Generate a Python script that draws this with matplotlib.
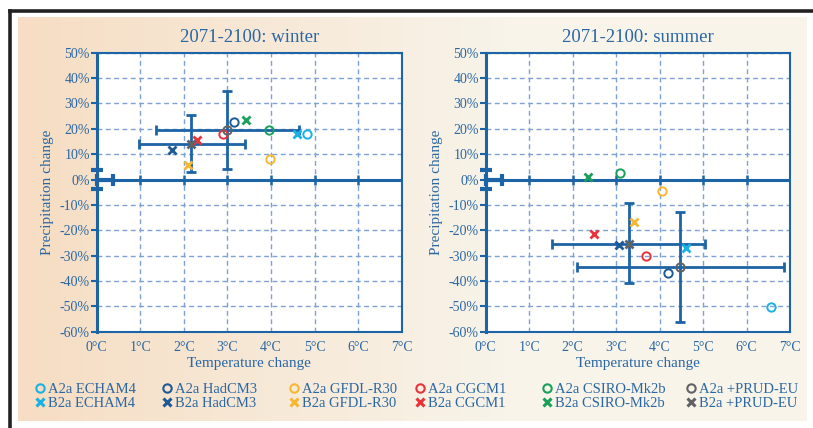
import numpy as np
import matplotlib
matplotlib.use("Agg")
import matplotlib.pyplot as plt
from matplotlib.lines import Line2D

plt.rcParams['font.family'] = ['Liberation Serif', 'DejaVu Serif']

# ---------------- data ----------------
models = ['ECHAM4', 'HadCM3', 'GFDL-R30', 'CGCM1', 'CSIRO-Mk2b', '+PRUD-EU']
model_colors = ['#1ab2e4', '#1d5a96', '#f6b733', '#e8333b', '#19a05a', '#606264']

winter_a2_temp = [4.83, 3.16, 3.98, 2.89, 3.95, 3.00]
winter_a2_prec = [18.0, 22.6, 8.1, 17.9, 19.5, 19.5]
winter_b2_temp = [4.59, 1.73, 2.09, 2.30, 3.43, 2.16]
winter_b2_prec = [17.8, 11.7, 5.6, 15.5, 23.4, 14.2]
winter_a2_trange = [1.35, 4.64]
winter_a2_prange = [4.3, 35.0]
winter_b2_trange = [0.98, 3.40]
winter_b2_prange = [3.0, 25.3]

summer_a2_temp = [6.56, 4.19, 4.06, 3.69, 3.09, 4.48]
summer_a2_prec = [-50.2, -36.9, -4.6, -30.3, 2.4, -34.5]
summer_b2_temp = [4.60, 3.06, 3.42, 2.49, 2.35, 3.30]
summer_b2_prec = [-27.0, -25.8, -16.7, -21.6, 1.0, -25.4]
summer_a2_trange = [2.09, 6.87]
summer_a2_prange = [-56.0, -12.9]
summer_b2_trange = [1.53, 5.05]
summer_b2_prange = [-40.9, -9.2]

control_terr = 0.37
control_perr = 3.7

xticks = [0, 1, 2, 3, 4, 5, 6, 7]
xticklabels = ['0°C', '1°C', '2°C', '3°C', '4°C', '5°C', '6°C', '7°C']
yticks = [50, 40, 30, 20, 10, 0, -10, -20, -30, -40, -50, -60]
yticklabels = ['50%', '40%', '30%', '20%', '10%', '0%', '-10%', '-20%', '-30%', '-40%', '-50%', '-60%']

# ---------------- style ----------------
AX = '#1d64a6'
TXT = '#2a67a3'
GRID = '#7ea2d6'

fig = plt.figure(figsize=(8.13, 4.28), dpi=100)
fig.patch.set_facecolor('white')

# beige gradient panel
bg = fig.add_axes([18/813, 1-421/428, (806-18)/813, (421-17)/428], zorder=-10)
grad = np.linspace(0, 1, 256)[None, :]
c0 = np.array([0xf6, 0xdd, 0xc3]) / 255
c1 = np.array([0xf8, 0xf4, 0xea]) / 255
w = np.clip(grad * 1.6, 0, 1)[..., None]
img = c0 * (1 - w) + c1 * w
bg.imshow(img, aspect='auto', extent=[0, 1, 0, 1])
bg.set_axis_off()

# black frame lines (top and left)
fig.add_artist(Line2D([9.5/813, 1.0], [1-10.5/428, 1-10.5/428], transform=fig.transFigure, color='#222222', lw=2.6))
fig.add_artist(Line2D([9.5/813, 9.5/813], [0, 1-10.5/428], transform=fig.transFigure, color='#222222', lw=2.6))


def panel(rect, title, a2t, a2p, b2t, b2p, a2tr, a2pr, b2tr, b2pr):
    ax = fig.add_axes(rect)
    ax.set_facecolor('white')
    ax.set_xlim(0, 7)
    ax.set_ylim(-60, 50)
    ax.set_xticks(xticks)
    ax.set_xticklabels(xticklabels)
    ax.set_yticks(yticks)
    ax.set_yticklabels(yticklabels)
    ax.tick_params(axis='x', length=0, pad=7, labelsize=10, labelcolor=TXT)
    ax.tick_params(axis='y', length=4, width=1.5, color=AX, direction='out', pad=1, labelsize=10, labelcolor=TXT)
    for s in ax.spines.values():
        s.set_color(AX)
        s.set_linewidth(1.5)
    ax.spines['left'].set_linewidth(2.2)
    ax.grid(True, color=GRID, ls=(0, (3.5, 2.5)), lw=1.0)
    ax.set_axisbelow(True)
    ax.set_title(title, fontsize=13.5, color=TXT, pad=8)
    ax.set_xlabel('Temperature change', fontsize=11, color=TXT, labelpad=2)
    ax.set_ylabel('Precipitation change', fontsize=11, color=TXT, labelpad=4)

    # zero line with crossing ticks
    ax.axhline(0, color=AX, lw=2.2, zorder=2)
    ax.plot(xticks[1:-1], [0] * (len(xticks) - 2), ls='none', marker='|', ms=7, mew=1.8, color=AX, zorder=2)
    # control point variability
    ax.errorbar([0], [0], xerr=[[0], [control_terr]], fmt='none', ecolor=AX,
                elinewidth=3, capsize=4, capthick=3, clip_on=False, zorder=3)
    ax.errorbar([0], [0], yerr=[control_perr], fmt='none', ecolor=AX,
                elinewidth=0, capsize=4, capthick=3, clip_on=False, zorder=3)

    # PRUD-EU ranges
    for t, p, tr, pr in [(a2t[-1], a2p[-1], a2tr, a2pr), (b2t[-1], b2p[-1], b2tr, b2pr)]:
        ax.errorbar([t], [p], xerr=[[t - tr[0]], [tr[1] - t]], yerr=[[p - pr[0]], [pr[1] - p]],
                    fmt='none', ecolor=AX, elinewidth=2.0, capsize=3.6, capthick=2.0, zorder=3)

    for i in range(len(models)):
        ax.plot(a2t[i], a2p[i], ls='none', marker='o', ms=6, mfc='none', mec=model_colors[i], mew=1.4, zorder=5)
        ax.plot(b2t[i], b2p[i], ls='none', marker='x', ms=6, mec=model_colors[i], mew=2.0, zorder=5)
    return ax


axw = panel([96.7/813, 1-331.7/428, (401.7-96.7)/813, (331.7-52.7)/428], '2071-2100: winter',
            winter_a2_temp, winter_a2_prec, winter_b2_temp, winter_b2_prec,
            winter_a2_trange, winter_a2_prange, winter_b2_trange, winter_b2_prange)
axs = panel([485.7/813, 1-331.7/428, (790-485.7)/813, (331.7-52.7)/428], '2071-2100: summer',
            summer_a2_temp, summer_a2_prec, summer_b2_temp, summer_b2_prec,
            summer_a2_trange, summer_a2_prange, summer_b2_trange, summer_b2_prange)

# legend: one small legend per model column
legend_x = [40, 167, 294, 420, 547, 691]
for i, m in enumerate(models):
    h = [Line2D([], [], ls='none', marker='o', ms=6, mfc='none', mec=model_colors[i], mew=1.5),
         Line2D([], [], ls='none', marker='x', ms=5.5, mec=model_colors[i], mew=2.2)]
    leg = fig.legend(h, ['A2a ' + m, 'B2a ' + m], loc='center left',
                     bbox_to_anchor=((legend_x[i] - 4) / 813, 1 - 396.5 / 428),
                     frameon=False, fontsize=10.5, handlelength=0.6, handletextpad=0.25,
                     labelspacing=0.05, borderaxespad=0, borderpad=0)
    for t in leg.get_texts():
        t.set_color(TXT)

fig.savefig('out.png', dpi=100)
